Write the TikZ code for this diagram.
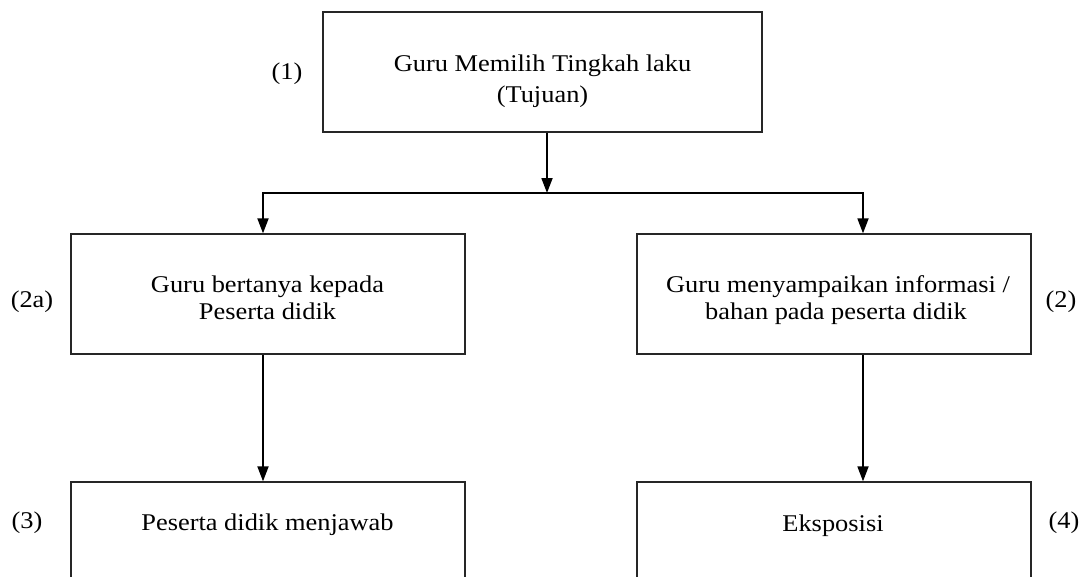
\documentclass[tikz,border=0pt]{standalone}
\usepackage{fontspec}
\usetikzlibrary{arrows.meta}
\newfontfamily\dfont[FakeStretch=1.1]{Liberation Serif}
\begin{document}
\begin{tikzpicture}[x=1pt,y=-1pt,
  box/.style={draw=black!85, line width=1.3pt, rectangle, inner sep=0pt},
  txt/.style={font=\dfont\fontsize{24}{28}\selectfont, inner sep=0pt, anchor=base},
  conn/.style={line width=1.8pt, black},
  arr/.style={conn, -{Triangle[length=15pt,width=11pt]}}]
\clip (0,0) rectangle (1083,576);
\fill[white] (0,0) rectangle (1083,576);
% boxes
\node[box, minimum width=439pt, minimum height=120pt] (b1) at (542.5,72) {};
\node[box, minimum width=394pt, minimum height=120pt] (b2a) at (268,294) {};
\node[box, minimum width=394pt, minimum height=120pt] (b2) at (834,294) {};
\node[box, minimum width=394pt, minimum height=120pt] (b3) at (268,542) {};
\node[box, minimum width=394pt, minimum height=120pt] (b4) at (834,542) {};
% texts
\node[txt] (t1a) at (542.5,71) {Guru Memilih Tingkah laku};
\node[txt] (t1b) at (542.5,102) {(Tujuan)};
\node[txt] (t2aa) at (267.5,292) {Guru bertanya kepada};
\node[txt] (t2ab) at (267.5,319.5) {Peserta didik};
\node[txt] (t2a) at (838,292) {Guru menyampaikan informasi /};
\node[txt] (t2b) at (836,319.5) {bahan pada peserta didik};
\node[txt] (t3) at (267.5,530) {Peserta didik menjawab};
\node[txt] (t4) at (833,531) {Eksposisi};
% labels
\node[txt] (l1) at (287,79) {(1)};
\node[txt] (l2a) at (32,307) {(2a)};
\node[txt] (l2) at (1061,307) {(2)};
\node[txt] (l3) at (27,528) {(3)};
\node[txt] (l4) at (1064,528) {(4)};
% connectors
\coordinate (hl) at (263,193);
\coordinate (hr) at (863,193);
\coordinate (hm) at (547,193);
\draw[arr] (b1.south -| hm) -- (hm);
\draw[conn] ([xshift=-0.9pt]hl) -- ([xshift=0.9pt]hr);
\draw[arr] ([yshift=-0.9pt]hl) -- (b2a.north -| hl);
\draw[arr] ([yshift=-0.9pt]hr) -- (b2.north -| hr);
\draw[arr] (b2a.south -| hl) -- (b3.north -| hl);
\draw[arr] (b2.south -| hr) -- (b4.north -| hr);
\end{tikzpicture}
\end{document}
